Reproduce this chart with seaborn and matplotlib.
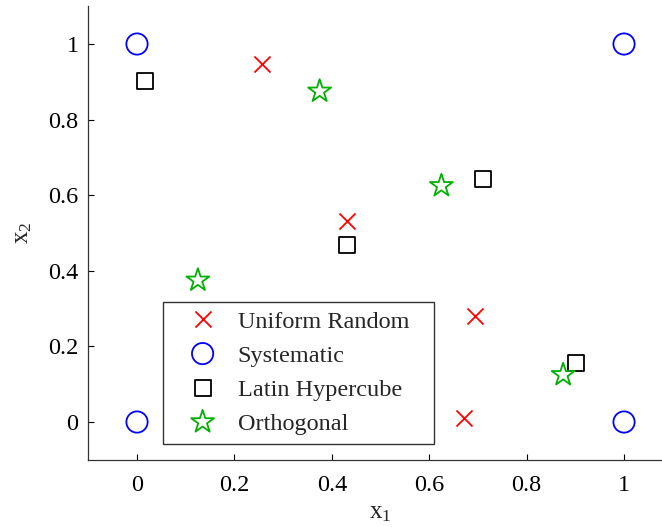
import matplotlib
matplotlib.use("Agg")
import matplotlib.pyplot as plt
import seaborn as sns
import pandas as pd

# Sample designs in the unit square
uniform_x1 = [0.257, 0.431, 0.694, 0.671]
uniform_x2 = [0.947, 0.533, 0.280, 0.011]

systematic_x1 = [0.0, 0.0, 1.0, 1.0]
systematic_x2 = [0.0, 1.0, 0.0, 1.0]

latin_x1 = [0.016, 0.431, 0.710, 0.901]
latin_x2 = [0.902, 0.468, 0.643, 0.156]

orthogonal_x1 = [0.125, 0.375, 0.625, 0.875]
orthogonal_x2 = [0.375, 0.875, 0.625, 0.125]

series_names = ["Uniform Random", "Systematic", "Latin Hypercube", "Orthogonal"]
tick_values = [0, 0.2, 0.4, 0.6, 0.8, 1]
tick_labels = ["0", "0.2", "0.4", "0.6", "0.8", "1"]

sns.set_style("white")
plt.rcParams["font.family"] = ["Liberation Serif", "DejaVu Serif"]
plt.rcParams["mathtext.default"] = "regular"

fig = plt.figure(figsize=(6.62, 5.27), dpi=100)
ax = fig.add_axes([0.1334, 0.1275, 0.8828, 0.8607])

styles = [
    (uniform_x1, uniform_x2, "x", "#ff0000", 133, True),
    (systematic_x1, systematic_x2, "o", "#0000ff", 234, False),
    (latin_x1, latin_x2, "s", "#000000", 133, False),
    (orthogonal_x1, orthogonal_x2, "*", "#00b000", 300, False),
]

for name, (xs, ys, mk, col, size, unfilled) in zip(series_names, styles):
    df = pd.DataFrame({"x1": xs, "x2": ys})
    kw = dict(marker=mk, s=size, color=col, edgecolor=col, linewidth=1.3,
              label=name, legend=False, ax=ax, zorder=3)
    if not unfilled:
        kw["facecolor"] = "none"
    sns.scatterplot(data=df, x="x1", y="x2", **kw)

ax.set_xlim(-0.1, 1.1)
ax.set_ylim(-0.1, 1.1)
ax.set_xticks(tick_values)
ax.set_xticklabels(tick_labels)
ax.set_yticks(tick_values)
ax.set_yticklabels(tick_labels)
ax.tick_params(direction="in", length=4, width=0.8, labelsize=17.5,
               colors="#000000", left=True, bottom=True)
ax.tick_params(axis="x", pad=11)
ax.tick_params(axis="y", pad=7)

for side in ("top", "right"):
    ax.spines[side].set_visible(False)
for side in ("left", "bottom"):
    ax.spines[side].set_color("#333333")
    ax.spines[side].set_linewidth(0.9)

ax.set_xlabel("$x_1$", fontsize=18, labelpad=4)
ax.set_ylabel("$x_2$", fontsize=18, labelpad=10)

leg = ax.legend(loc="lower left", bbox_to_anchor=(0.128, 0.035, 0.463, 0.0),
                mode="expand", fontsize=17.5, frameon=True, fancybox=False,
                borderpad=0.35, labelspacing=0.5, handlelength=2.55,
                handletextpad=0.17, borderaxespad=0.0, scatteryoffsets=[0.5])
leg.get_frame().set_edgecolor("#000000")
leg.get_frame().set_linewidth(1.0)

fig.savefig("out.png", dpi=100)
